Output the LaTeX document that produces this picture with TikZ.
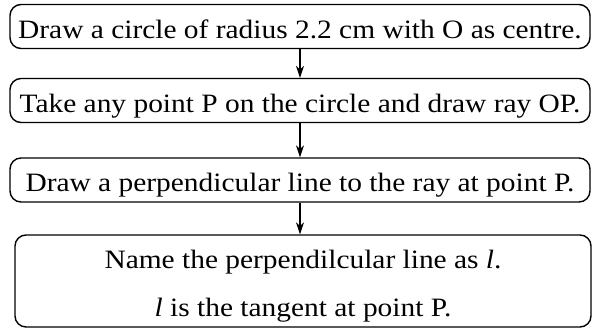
\documentclass[tikz,border=0pt]{standalone}
\usepackage{fontspec}
\setmainfont{Liberation Serif}[FakeStretch=1.11]
\usetikzlibrary{arrows.meta, positioning}

\begin{document}
\begin{tikzpicture}[x=1pt, y=1pt, every node/.style={font=\fontsize{26.5}{48}\selectfont}, >={Stealth[length=12pt, width=8pt]},
  stepbox/.style={draw, line width=1.4pt, rounded corners=11pt, minimum width=580pt, minimum height=44pt, inner sep=0pt,
    text height=24pt, text depth=0pt}]
  \useasboundingbox (0,0) rectangle (592,329);
  % construction steps
  \node[stepbox] (s1) at (300,302.5) {Draw a circle of radius 2.2 cm with O as centre.};
  \node[stepbox] (s2) at (300,228.5) {Take any point P on the circle and draw ray OP.};
  \node[stepbox] (s3) at (300,149) {Draw a perpendicular line to the ray at point P.};
  \node[stepbox, minimum width=576pt, minimum height=92pt, align=center, text height=72pt] (s4) at (303,48)
    {Name the perpendilcular line as \textit{l}.\\ \textit{l} is the tangent at point P.};
  % arrows between steps
  \draw[->, line width=1.2pt] (s1.south) -- (s2.north);
  \draw[->, line width=1.2pt] (s2.south) -- (s3.north);
  \draw[->, line width=1.2pt] (s3.south) -- (s3.south |- s4.north);
\end{tikzpicture}
\end{document}
